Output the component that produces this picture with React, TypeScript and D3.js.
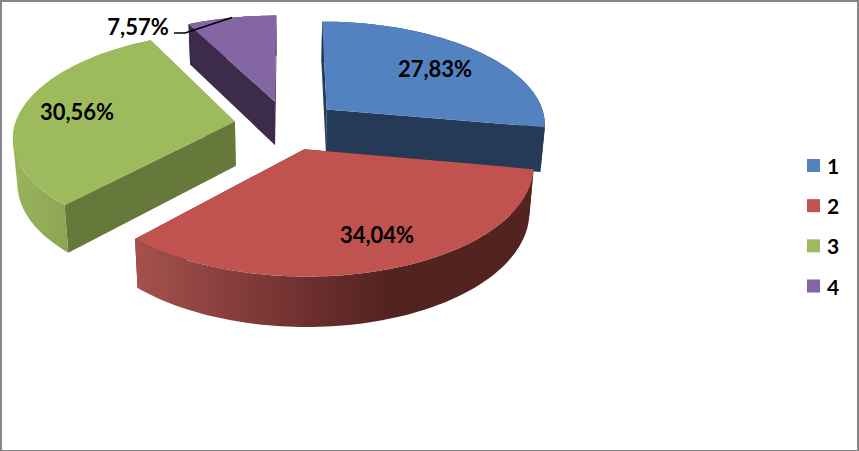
import React from "react";
import * as d3 from "d3";

const categories = ["1", "2", "3", "4"];
const shares = [27.83, 34.04, 30.56, 7.57];
const shareLabels = ["27,83%", "34,04%", "30,56%", "7,57%"];
const topColors = ["#5282bf", "#c0524f", "#9dbb5c", "#8466a5"];
const wallColors = ["#243a56", "#52231f", "#66793b", "#3c2b4a"];

const W = 859;
const H = 451;
const X0 = 287, Y0 = 125, A = 220, B = 103.3, K = 0.133;
const EXPLODE = 0.24;
const DEPTH = 44.5, SHRINK = 0.983, VX = 283;
const FONT = "Lato, 'Open Sans', sans-serif";

type P = [number, number];
const planeToScreen = (px: number, py: number, bottom: boolean): P => {
  const w = 1 - K * py;
  const x = X0 + (A * px) / w;
  const y = Y0 + (B * py) / w;
  return bottom ? [VX + (x - VX) * SHRINK, y + DEPTH / Math.pow(w, 0.7)] : [x, y];
};

const arcs = d3.pie<number>().sort(null)(shares);
const line = d3.line();
const close = (pts: P[]) => line(pts) + "Z";

function slicePoint(mid: number, theta: number, r: number, bottom = false): P {
  const ox = Math.sin(mid) * EXPLODE;
  const oy = -Math.cos(mid) * EXPLODE;
  return planeToScreen(ox + r * Math.sin(theta), oy - r * Math.cos(theta), bottom);
}

function arcPoints(mid: number, a0: number, a1: number, bottom = false): P[] {
  const n = Math.max(8, Math.ceil(Math.abs(a1 - a0) * 40));
  return d3.range(n + 1).map((i) => slicePoint(mid, a0 + ((a1 - a0) * i) / n, 1, bottom));
}

// The rim is the union of thin quads, all wound the same way, so the silhouette
// between the top and bottom arcs stays filled.
function rimPath(mid: number, a0: number, a1: number): string {
  const top = arcPoints(mid, a0, a1);
  const bot = arcPoints(mid, a0, a1, true);
  return d3
    .range(top.length - 1)
    .map((k) => {
      const q: P[] = [top[k], top[k + 1], bot[k + 1], bot[k]];
      return close(d3.polygonArea(q) < 0 ? q.reverse() : q);
    })
    .join("");
}

const labelSpots: P[] = [[435, 68], [377, 234], [77, 111], [138, 26]];
const leader: P[] = [[174, 33], [185, 33], [232, 17.5]];
const legendRowY = d3.scalePoint<string>().domain(categories).range([165.5, 286]);
const drawOrder = [3, 2, 0, 1];

export default function App() {
  return (
    <svg
      width={W}
      height={H}
      viewBox={`0 0 ${W} ${H}`}
      style={{ position: "absolute", left: 0, top: 0, background: "#fff" }}
    >
      <defs>
        <linearGradient id="rim1" gradientUnits="userSpaceOnUse" x1={135} x2={400} y1={0} y2={0}>
          <stop offset="0" stopColor="#a5514e" />
          <stop offset="0.37" stopColor="#863e3b" />
          <stop offset="0.62" stopColor="#703130" />
          <stop offset="0.95" stopColor="#532320" />
          <stop offset="1" stopColor="#52231f" />
        </linearGradient>
        <linearGradient id="rim2" gradientUnits="userSpaceOnUse" x1={13} x2={68} y1={0} y2={0}>
          <stop offset="0" stopColor="#9ab35c" />
          <stop offset="1" stopColor="#8ca554" />
        </linearGradient>
      </defs>
      <rect x={1} y={1} width={W - 2} height={H - 1} fill="#fff" stroke="#868686" strokeWidth={2} />
      {drawOrder.map((i) => {
        const s = arcs[i];
        const mid = (s.startAngle + s.endAngle) / 2;
        const apexT = slicePoint(mid, 0, 0);
        const apexB = slicePoint(mid, 0, 0, true);
        const wall = (t: number) =>
          close([apexT, slicePoint(mid, t, 1), slicePoint(mid, t, 1, true), apexB]);
        const rimFill = i === 1 ? "url(#rim1)" : i === 2 ? "url(#rim2)" : wallColors[i];
        return (
          <g key={categories[i]}>
            <path d={wall(s.startAngle)} fill={wallColors[i]} />
            <path d={wall(s.endAngle)} fill={wallColors[i]} />
            <path d={rimPath(mid, s.startAngle, s.endAngle)} fill={rimFill} />
            <path d={close([apexT, ...arcPoints(mid, s.startAngle, s.endAngle)])} fill={topColors[i]} />
          </g>
        );
      })}
      <path d={line(leader) ?? ""} fill="none" stroke="#000" strokeWidth={1.6} />
      {shareLabels.map((t, i) => (
        <text
          key={t}
          x={labelSpots[i][0]}
          y={labelSpots[i][1]}
          textAnchor="middle"
          dominantBaseline="central"
          fontFamily={FONT}
          fontWeight={700}
          fontSize={22}
          fill="#000"
        >
          {t}
        </text>
      ))}
      {categories.map((c, i) => (
        <g key={c}>
          <rect x={807} y={legendRowY(c)! - 6.5} width={13} height={13} fill={topColors[i]} />
          <text
            x={827}
            y={legendRowY(c)}
            dominantBaseline="central"
            fontFamily={FONT}
            fontWeight={700}
            fontSize={21}
            fill="#000"
          >
            {c}
          </text>
        </g>
      ))}
    </svg>
  );
}
